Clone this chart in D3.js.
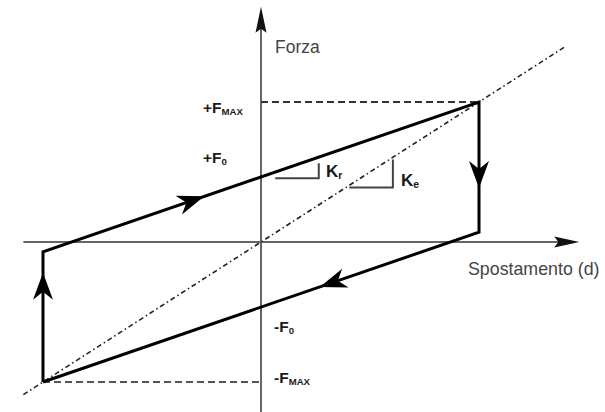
<!DOCTYPE html>
<html>
<head>
<meta charset="utf-8">
<script src="https://cdn.jsdelivr.net/npm/d3@7"></script>
<style>
  body { margin: 0; background: #fff; }
  svg { display: block; }
</style>
</head>
<body>
<svg id="chart" width="605" height="412"></svg>
<script>
// loop vertices (d = displacement, f = force, normalised to dMax / FMAX)
const loopD = [-1, -1, 1, 1, -1];
const loopF = [-1, -0.07, 1, 0.07, -1];
// arrow position along each loop segment (fraction of segment from its start)
const arrowAt = [0.84, 0.37, 0.66, 0.365];
const F0 = 0.465;
const Kr = 0.535;   // slope of the post-yield branch
const Ke = 1;       // elastic slope
const axisD = [-1.09, 1.46];
const axisF = [-1.22, 1.68];
const elasticD = [-1.09, 1.395];

const svg = d3.select('#chart');

const x = d3.scaleLinear().domain([-1, 1]).range([43, 479]);
const y = d3.scaleLinear().domain([-1, 1]).range([382, 102]);

// axes
svg.append('line')
  .attr('x1', x(axisD[0])).attr('x2', x(axisD[1]) - 20)
  .attr('y1', y(0)).attr('y2', y(0))
  .attr('stroke', '#666').attr('stroke-width', 2);
svg.append('line')
  .attr('x1', x(0)).attr('x2', x(0))
  .attr('y1', y(axisF[0])).attr('y2', y(axisF[1]) + 20)
  .attr('stroke', '#666').attr('stroke-width', 2);

// axis arrowheads
svg.append('path')
  .attr('d', `M${x(axisD[1])},${y(0)} L${x(axisD[1]) - 25},${y(0) - 5.5} L${x(axisD[1]) - 21},${y(0)} L${x(axisD[1]) - 25},${y(0) + 5.5} Z`)
  .attr('fill', '#111');
svg.append('path')
  .attr('d', `M${x(0)},${y(axisF[1])} L${x(0) - 5.5},${y(axisF[1]) + 26} L${x(0)},${y(axisF[1]) + 22} L${x(0) + 5.5},${y(axisF[1]) + 26} Z`)
  .attr('fill', '#111');

// elastic line (dash-dot)
svg.append('line')
  .attr('x1', x(elasticD[0])).attr('y1', y(Ke * elasticD[0]))
  .attr('x2', x(elasticD[1])).attr('y2', y(Ke * elasticD[1]))
  .attr('stroke', '#222').attr('stroke-width', 1.6)
  .attr('stroke-dasharray', '5,3,1.5,3');

// FMAX dashed guides
svg.append('line')
  .attr('x1', x(0)).attr('x2', x(1))
  .attr('y1', y(1)).attr('y2', y(1))
  .attr('stroke', '#333').attr('stroke-width', 2).attr('stroke-dasharray', '7,4');
svg.append('line')
  .attr('x1', x(-1)).attr('x2', x(0))
  .attr('y1', y(-1)).attr('y2', y(-1))
  .attr('stroke', '#555').attr('stroke-width', 2).attr('stroke-dasharray', '7,4');

// hysteresis loop
const pts = loopD.map((d, i) => [x(d), y(loopF[i])]);
svg.append('path')
  .attr('d', d3.line()(pts))
  .attr('fill', 'none')
  .attr('stroke', '#000')
  .attr('stroke-width', 3)
  .attr('stroke-linejoin', 'miter');

// direction arrows on the loop
arrowAt.forEach((t, i) => {
  const [x0, y0] = pts[i];
  const [x1, y1] = pts[i + 1];
  const px = x0 + (x1 - x0) * t;
  const py = y0 + (y1 - y0) * t;
  const ang = Math.atan2(y1 - y0, x1 - x0) * 180 / Math.PI;
  svg.append('path')
    .attr('d', 'M0,0 L-27,-10 L-19,0 L-27,10 Z')
    .attr('transform', `translate(${px},${py}) rotate(${ang})`)
    .attr('fill', '#000');
});

// slope triangles
const tri = (d0, run, f0, k) => {
  svg.append('path')
    .attr('d', d3.line()([[x(d0), y(f0)], [x(d0 + run), y(f0)], [x(d0 + run), y(f0 + k * run)]]))
    .attr('fill', 'none').attr('stroke', '#444').attr('stroke-width', 2);
};
tri(0.065, 0.2, 0.455, Kr);
tri(0.405, 0.2, 0.39, Ke);

// labels
const lab = (tx, ty, main, sub, size) => {
  const t = svg.append('text')
    .attr('x', tx).attr('y', ty)
    .attr('font-family', 'Liberation Sans, Arial, sans-serif')
    .attr('font-weight', 'bold')
    .attr('font-size', size)
    .attr('fill', '#1a1a1a');
  t.append('tspan').text(main);
  t.append('tspan').attr('font-size', size * 0.62).attr('dy', 2).text(sub);
};
lab(203, y(1) + 11, '+F', 'MAX', 15.5);
lab(203, y(F0) - 14, '+F', '0', 15.5);
lab(274, y(-F0) + 25, '-F', '0', 15.5);
lab(274, y(-1) + 1, '-F', 'MAX', 15.5);
lab(326, 177, 'K', 'r', 17);
lab(401, 186, 'K', 'e', 17);

svg.append('text')
  .attr('x', 275).attr('y', 53)
  .attr('font-family', 'Liberation Sans, Arial, sans-serif')
  .attr('font-size', 17.5)
  .attr('fill', '#444')
  .text('Forza');
svg.append('text')
  .attr('x', 468).attr('y', 275)
  .attr('font-family', 'Liberation Sans, Arial, sans-serif')
  .attr('font-size', 17.8)
  .attr('fill', '#444')
  .text('Spostamento (d)');
</script>
</body>
</html>
